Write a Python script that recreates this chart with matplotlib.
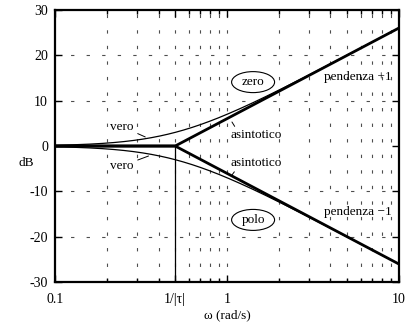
import numpy as np
import matplotlib
matplotlib.use("Agg")
import matplotlib.pyplot as plt
from matplotlib.patches import Ellipse

plt.rcParams['font.family'] = ['Liberation Serif', 'DejaVu Serif']

# data
tau = 2.0
w_corner = 1 / tau
w = np.logspace(-1, 1, 400)
zero_true = 10 * np.log10(1 + (w * tau) ** 2)
pole_true = -zero_true
w_asym = [0.1, w_corner, 10.0]
zero_asym = [0.0, 0.0, 20 * np.log10(10.0 * tau)]
pole_asym = [0.0, 0.0, -20 * np.log10(10.0 * tau)]

xticks = [0.1, w_corner, 1, 10]
xticklabels = ['0.1', '1/|τ|', '1', '10']
yticks = [-30, -20, -10, 0, 10, 20, 30]
yticklabels = ['-30', '-20', '-10', '0', '10', '20', '30']
minor_x = [0.2, 0.3, 0.4, 0.6, 0.7, 0.8, 0.9, 2, 3, 4, 5, 6, 7, 8, 9]
grid_y = [-20, -10, 10, 20]

fig = plt.figure(figsize=(4.12, 3.24), dpi=100)
ax = fig.add_axes([0.1335, 0.1296, 0.8345, 0.8394])
ax.set_xscale('log')
ax.set_xlim(0.1, 10)
ax.set_ylim(-30, 30)

# grid
gstyle = dict(color='0.3', lw=0.8, ls=(0, (3.0, 11.0)), zorder=1)
for gx in minor_x + [w_corner, 1]:
    ax.axvline(gx, **gstyle)
for gy in grid_y:
    ax.axhline(gy, **gstyle)

# curves
ax.plot(w, zero_true, color='black', lw=0.9, zorder=3)
ax.plot(w, pole_true, color='black', lw=0.9, zorder=3)
ax.plot(w_asym, zero_asym, color='black', lw=2.0, zorder=4)
ax.plot(w_asym, pole_asym, color='black', lw=2.0, zorder=4)
ax.plot([w_corner, w_corner], [-30, 0], color='black', lw=0.9, zorder=3)

fs = 9.5
# annotations
ax.annotate('vero', xy=(0.335, 2.0), xytext=(0.245, 4.3), fontsize=fs,
            ha='center', va='center',
            arrowprops=dict(arrowstyle='-', lw=0.7, shrinkA=1, shrinkB=0))
ax.annotate('vero', xy=(0.35, -2.2), xytext=(0.245, -4.4), fontsize=fs,
            ha='center', va='center',
            arrowprops=dict(arrowstyle='-', lw=0.7, shrinkA=1, shrinkB=0))
ax.annotate('asintotico', xy=(1.07, 5.3), xytext=(1.475, 2.4), fontsize=fs,
            ha='center', va='center',
            arrowprops=dict(arrowstyle='-', lw=0.7, shrinkA=0, shrinkB=0,
                            relpos=(0.12, 1.0)))
ax.annotate('asintotico', xy=(1.07, -6.4), xytext=(1.475, -3.75), fontsize=fs,
            ha='center', va='center',
            arrowprops=dict(arrowstyle='-', lw=0.7, shrinkA=0, shrinkB=0,
                            relpos=(0.12, 0.0)))

ax.text(5.75, 15.2, 'pendenza +1', fontsize=fs, ha='center', va='center')
ax.text(5.75, -14.6, 'pendenza −1', fontsize=fs, ha='center', va='center')

for label, yc in [('zero', 14.1), ('polo', -16.3)]:
    ax.text(1.42, yc, label, fontsize=fs, ha='center', va='center', zorder=6)
    # ellipse drawn in axes coordinates
    xa = (np.log10(1.42) + 1) / 2
    ya = (yc + 30) / 60
    ax.add_patch(Ellipse((xa, ya), width=43 / 344, height=21 / 272,
                         transform=ax.transAxes, fill=False, lw=0.8,
                         color='black', zorder=6))

ax.set_xticks(xticks)
ax.set_xticklabels(xticklabels)
ax.set_xticks(minor_x, minor=True)
ax.set_xticklabels([], minor=True)
ax.set_yticks(yticks)
ax.set_yticklabels(yticklabels)
ax.tick_params(which='both', direction='in', top=True, right=True,
               labelsize=10, width=1.0)
ax.tick_params(axis='x', pad=8)
ax.tick_params(axis='y', pad=5)
ax.tick_params(which='major', length=5)
ax.tick_params(which='minor', length=3)
for s in ax.spines.values():
    s.set_linewidth(1.6)

ax.set_xlabel('ω (rad/s)', fontsize=fs, labelpad=2)
ax.set_ylabel('dB', fontsize=fs, rotation=0, va='center', ha='center')
ax.yaxis.set_label_coords(-0.085, 0.4375)

fig.savefig('out.png', dpi=100)
